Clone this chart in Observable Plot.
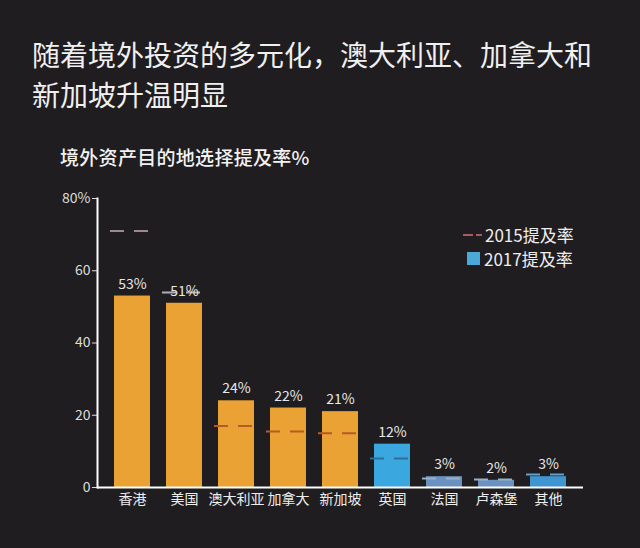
<!DOCTYPE html>
<html><head><meta charset="utf-8">
<script src="https://cdn.jsdelivr.net/npm/d3@7"></script>
<script src="https://cdn.jsdelivr.net/npm/@observablehq/plot@0.6"></script>
<style>
html,body{margin:0;padding:0;background:#1f1d1f;width:640px;height:548px;overflow:hidden;font-family:"Noto Sans CJK SC","Noto Sans",sans-serif;}
#wrap{position:relative;width:640px;height:548px;}
#title{position:absolute;left:32px;top:34px;font-size:28px;line-height:40px;color:#f0f0f0;white-space:nowrap;}
#sub{position:absolute;left:60px;top:144px;font-size:19px;line-height:26px;color:#f2f2f2;font-weight:500;letter-spacing:0.3px;}
#chart{position:absolute;left:0;top:169px;}
#legend{position:absolute;left:463px;top:223px;font-size:17px;line-height:24px;color:#eee;}
.li{display:flex;align-items:center;height:24px;}
.sw{display:inline-block;margin-right:3px;}
</style></head>
<body><div id="wrap">
<div id="title">随着境外投资的多元化，澳大利亚、加拿大和<br>新加坡升温明显</div>
<div id="sub">境外资产目的地选择提及率%</div>
<div id="chart"></div>
<div id="legend"></div>
</div>
<script>
const categories = ["香港","美国","澳大利亚","加拿大","新加坡","英国","法国","卢森堡","其他"];
const rate2017 = [53,51,24,22,21,12,3,2,3];
const rate2015 = [71,54,17,15.5,15,8,2.5,2.2,3.6];
const barColors = ["#e9a233","#e9a233","#e9a233","#e9a233","#e9a233","#3aa7de","#6a92c0","#6a92c0","#3f95cf"];
const dashColors = ["#a08890","#b4aeb0","#b85a28","#b85a28","#b85a28","#2f6f9a","#9ab0c8","#9ab0c8","#6aa0c8"];
const yTicks = [0,20,40,60,80];
const legendLabels = ["2015提及率","2017提及率"];

const data = categories.map((c,i)=>({cat:c, v17:rate2017[i], v15:rate2015[i], color:barColors[i], dash:dashColors[i]}));

const plot = Plot.plot({
  width:640, height:379,
  marginLeft:97, marginRight:57, marginTop:29, marginBottom:61,
  style:{background:"transparent", fontFamily:"'Noto Sans CJK SC','Noto Sans',sans-serif"},
  x:{domain:categories, paddingInner:0.3, paddingOuter:0.27, label:null},
  y:{domain:[0,80], label:null},
  marks:[
    Plot.barY(data,{x:"cat", y:"v17", fill:"color"}),
    Plot.tickY(data,{x:"cat", y:"v15", stroke:"dash", strokeWidth:2, strokeDasharray:"14,10", insetLeft:-4, insetRight:-2}),
    Plot.text(data,{x:"cat", y:"v17", text:d=>d.v17+"%", dy:-12, fill:"#e8e8e8", fontSize:14}),
    Plot.axisY({ticks:yTicks, tickFormat:d=>d===80?"80%":String(d), color:"#dddddd", fontSize:14, tickSize:5, tickPadding:2, label:null}),
    Plot.axisX({tickSize:0, tickPadding:7, color:"#eeeeee", fontSize:14, label:null}),
    Plot.frame({anchor:"left", stroke:"#ffffff", strokeWidth:2}),
    Plot.ruleY([0],{stroke:"#ffffff", strokeWidth:2})
  ]
});
document.getElementById("chart").appendChild(plot);

const lg = document.getElementById("legend");
lg.innerHTML =
  `<div class="li"><svg class="sw" width="19" height="10"><line x1="0" y1="5" x2="19" y2="5" stroke="#a85a66" stroke-width="2" stroke-dasharray="10,3"/></svg>${legendLabels[0]}</div>`+
  `<div class="li"><svg class="sw" width="14" height="14" style="margin-left:4px"><rect width="13" height="13" fill="#4aa9d6"/></svg>${legendLabels[1]}</div>`;
</script>
</body></html>
